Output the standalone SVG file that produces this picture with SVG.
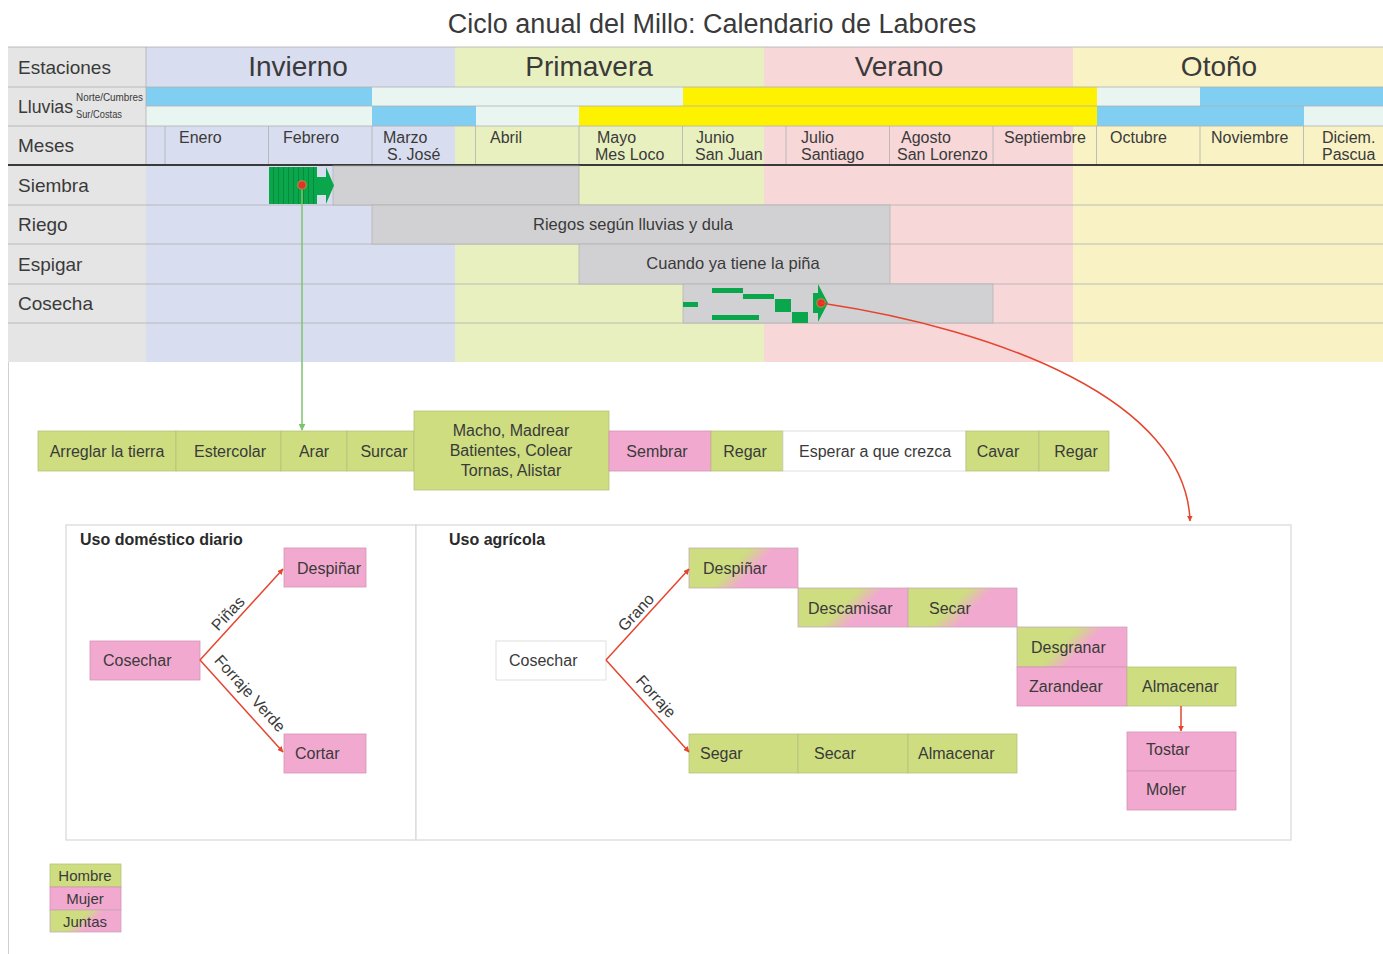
<svg xmlns="http://www.w3.org/2000/svg" width="1383" height="954" viewBox="0 0 1383 954">
<style>
text{font-family:"Liberation Sans",Arial,sans-serif;fill:#3a3a3a}
.title{font-size:27px}
.season{font-size:28px}
.rowl{font-size:19px}
.mon{font-size:16px}
.tiny{font-size:10px}
.bar{fill:#d1d1d3;stroke:#b5b5b5;stroke-width:0.8}
.bt{font-size:16.5px;text-anchor:middle}
.g{fill:#cddd80;stroke:#b5c47a;stroke-width:0.8}
.p{fill:#f2a9cf;stroke:#d493b3;stroke-width:0.8}
.w{fill:#ffffff;stroke:#d6d6d6;stroke-width:0.8}
.gp{fill:url(#gp);stroke:#c9a8b8;stroke-width:0.8}
.bx{font-size:16px}
.bc{font-size:16px;text-anchor:middle}
.lab{font-size:16px;text-anchor:middle}
.hd{font-size:16px;font-weight:bold;fill:#2a2a2a}
.grid{stroke:#b0b0b0;stroke-width:0.8}
.panel{fill:#ffffff;stroke:#d8d8d8;stroke-width:1.2}
.red{stroke:#e5452e;stroke-width:1.5;fill:none}
.leg{font-size:15px;text-anchor:middle}
</style>
<defs>
<linearGradient id="gp" x1="0" y1="0" x2="1" y2="0.35">
<stop offset="0.5" stop-color="#cddd80"/>
<stop offset="0.7" stop-color="#f2a9cf"/>
</linearGradient>
<marker id="ar" viewBox="0 0 10 10" refX="9" refY="5" markerWidth="6" markerHeight="6" orient="auto" markerUnits="userSpaceOnUse">
<path d="M0,0 L10,5 L0,10 z" fill="#e5452e"/>
</marker>
<marker id="ag" viewBox="0 0 10 10" refX="9" refY="5" markerWidth="7" markerHeight="7" orient="auto" markerUnits="userSpaceOnUse">
<path d="M0,0 L10,5 L0,10 z" fill="#7dc36b"/>
</marker>
<pattern id="stripes" x="269" y="0" width="5" height="10" patternUnits="userSpaceOnUse">
<rect width="5" height="10" fill="#0aa64b"/>
<rect x="4" width="1" height="10" fill="#078a3c"/>
</pattern>
</defs>

<rect width="1383" height="954" fill="#ffffff"/>
<line x1="8.5" y1="47" x2="8.5" y2="954" stroke="#d0d0d0" stroke-width="1"/>

<text class="title" x="712" y="33" text-anchor="middle">Ciclo anual del Millo: Calendario de Labores</text>

<g id="calendar">
<rect x="8" y="47" width="138" height="315" fill="#e5e5e5"/>
<rect x="146" y="47" width="309" height="315" fill="#d9ddf0"/>
<rect x="455" y="47" width="309" height="315" fill="#e8f0c0"/>
<rect x="764" y="47" width="309" height="315" fill="#f7d7d7"/>
<rect x="1073" y="47" width="310" height="315" fill="#f8f2c4"/>

<rect x="146" y="87" width="226" height="19" fill="#80cff2"/>
<rect x="372" y="87" width="311" height="19" fill="#e9f5f1"/>
<rect x="683" y="87" width="414" height="19" fill="#fff200"/>
<rect x="1097" y="87" width="103" height="19" fill="#e9f5f1"/>
<rect x="1200" y="87" width="183" height="19" fill="#80cff2"/>
<rect x="146" y="106" width="226" height="20" fill="#e9f5f1"/>
<rect x="372" y="106" width="104" height="20" fill="#80cff2"/>
<rect x="476" y="106" width="103" height="20" fill="#e9f5f1"/>
<rect x="579" y="106" width="518" height="20" fill="#fff200"/>
<rect x="1097" y="106" width="207" height="20" fill="#80cff2"/>
<rect x="1304" y="106" width="79" height="20" fill="#e9f5f1"/>

<g class="grid">
<line x1="8" y1="47" x2="1383" y2="47"/>
<line x1="8" y1="87" x2="1383" y2="87"/>
<line x1="146" y1="106" x2="1383" y2="106"/>
<line x1="8" y1="126" x2="1383" y2="126"/>
<line x1="8" y1="205" x2="1383" y2="205"/>
<line x1="8" y1="244" x2="1383" y2="244"/>
<line x1="8" y1="284" x2="1383" y2="284"/>
<line x1="8" y1="323" x2="1383" y2="323"/>
<line x1="146" y1="47" x2="146" y2="165"/>
<line x1="165" y1="126" x2="165" y2="165"/>
<line x1="268.5" y1="126" x2="268.5" y2="165"/>
<line x1="372" y1="126" x2="372" y2="165"/>
<line x1="475.5" y1="126" x2="475.5" y2="165"/>
<line x1="579" y1="126" x2="579" y2="165"/>
<line x1="682.5" y1="126" x2="682.5" y2="165"/>
<line x1="786" y1="126" x2="786" y2="165"/>
<line x1="889.5" y1="126" x2="889.5" y2="165"/>
<line x1="993" y1="126" x2="993" y2="165"/>
<line x1="1096.5" y1="126" x2="1096.5" y2="165"/>
<line x1="1200" y1="126" x2="1200" y2="165"/>
<line x1="1303.5" y1="126" x2="1303.5" y2="165"/>
</g>
<line x1="8" y1="165" x2="1383" y2="165" stroke="#3a3a3a" stroke-width="2"/>

<text class="rowl" x="18" y="74">Estaciones</text>
<text class="rowl" x="18" y="113" textLength="55" lengthAdjust="spacingAndGlyphs">Lluvias</text>
<text class="tiny" x="76" y="101" textLength="67" lengthAdjust="spacingAndGlyphs">Norte/Cumbres</text>
<text class="tiny" x="76" y="118" textLength="46" lengthAdjust="spacingAndGlyphs">Sur/Costas</text>
<text class="rowl" x="18" y="152">Meses</text>
<text class="rowl" x="18" y="192">Siembra</text>
<text class="rowl" x="18" y="231">Riego</text>
<text class="rowl" x="18" y="271">Espigar</text>
<text class="rowl" x="18" y="310">Cosecha</text>

<text class="season" x="298" y="76" text-anchor="middle">Invierno</text>
<text class="season" x="589" y="76" text-anchor="middle">Primavera</text>
<text class="season" x="899" y="76" text-anchor="middle">Verano</text>
<text class="season" x="1219" y="76" text-anchor="middle">Otoño</text>

<text class="mon" x="179" y="143">Enero</text>
<text class="mon" x="283" y="143">Febrero</text>
<text class="mon" x="383" y="143">Marzo</text>
<text class="mon" x="387" y="160">S. José</text>
<text class="mon" x="490" y="143">Abril</text>
<text class="mon" x="597" y="143">Mayo</text>
<text class="mon" x="595" y="160">Mes Loco</text>
<text class="mon" x="696" y="143">Junio</text>
<text class="mon" x="695" y="160">San Juan</text>
<text class="mon" x="801" y="143">Julio</text>
<text class="mon" x="801" y="160">Santiago</text>
<text class="mon" x="901" y="143">Agosto</text>
<text class="mon" x="897" y="160">San Lorenzo</text>
<text class="mon" x="1004" y="143">Septiembre</text>
<text class="mon" x="1110" y="143">Octubre</text>
<text class="mon" x="1211" y="143">Noviembre</text>
<text class="mon" x="1322" y="143">Diciem.</text>
<text class="mon" x="1322" y="160">Pascua</text>
</g>

<g id="siembra-bar">
<rect class="bar" x="333" y="166" width="246" height="39"/>
<rect x="269" y="167" width="48" height="37" fill="url(#stripes)"/>
<polygon points="317,177 326,177 326,167 334,185.5 326,204 326,195 317,195" fill="#0aa64b"/>
<circle cx="302" cy="185" r="5" fill="#f2803a" opacity="0.6"/>
<circle cx="302" cy="185" r="3.5" fill="#e8302a"/>
</g>

<g id="riego-bar">
<rect class="bar" x="372" y="205" width="518" height="39"/>
<text class="bt" x="633" y="230">Riegos según lluvias y dula</text>
</g>

<g id="espigar-bar">
<rect class="bar" x="579" y="244" width="311" height="40"/>
<text class="bt" x="733" y="269">Cuando ya tiene la piña</text>
</g>

<g id="cosecha-bar">
<rect class="bar" x="683" y="284" width="310" height="39"/>
<g fill="#0aa64b">
<rect x="683" y="302" width="15" height="5"/>
<rect x="712" y="288" width="31" height="5"/>
<rect x="743" y="294" width="31" height="5"/>
<rect x="712" y="315" width="47" height="5"/>
<rect x="775" y="299" width="16" height="13"/>
<rect x="792" y="312" width="16" height="11"/>
<polygon points="813,293 818,293 818,284 828,303 818,322 818,313 813,313"/>
</g>
<circle cx="821" cy="303" r="5" fill="#f2803a" opacity="0.6"/>
<circle cx="821" cy="303" r="3.5" fill="#e8302a"/>
</g>

<g id="tasks">
<g id="t-arreglar"><rect class="g" x="38" y="431" width="138" height="40"/><text class="bc" x="107" y="457">Arreglar la tierra</text></g>
<g id="t-estercolar"><rect class="g" x="176" y="431" width="105" height="40"/><text class="bc" x="230" y="457">Estercolar</text></g>
<g id="t-arar"><rect class="g" x="281" y="431" width="66" height="40"/><text class="bc" x="314" y="457">Arar</text></g>
<g id="t-surcar"><rect class="g" x="347" y="431" width="67" height="40"/><text class="bc" x="384" y="457">Surcar</text></g>
<g id="t-macho"><rect class="g" x="414" y="411" width="195" height="79"/>
<text class="bc" x="511" y="436">Macho, Madrear</text>
<text class="bc" x="511" y="456">Batientes, Colear</text>
<text class="bc" x="511" y="476">Tornas, Alistar</text></g>
<g id="t-sembrar"><rect class="p" x="609" y="431" width="102" height="40"/><text class="bc" x="657" y="457">Sembrar</text></g>
<g id="t-regar1"><rect class="g" x="711" y="431" width="72" height="40"/><text class="bc" x="745" y="457">Regar</text></g>
<g id="t-esperar"><rect class="w" x="783" y="431" width="183" height="40"/><text class="bc" x="875" y="457">Esperar a que crezca</text></g>
<g id="t-cavar"><rect class="g" x="966" y="431" width="73" height="40"/><text class="bc" x="998" y="457">Cavar</text></g>
<g id="t-regar2"><rect class="g" x="1039" y="431" width="70" height="40"/><text class="bc" x="1076" y="457">Regar</text></g>
</g>

<g id="panel-domestico">
<rect class="panel" x="66" y="525" width="350" height="315"/>
<text class="hd" x="80" y="545">Uso doméstico diario</text>
<g id="d-cosechar"><rect class="p" x="90" y="641" width="110" height="39"/><text class="bx" x="103" y="666">Cosechar</text></g>
<g id="d-despinar"><rect class="p" x="284" y="548" width="82" height="39"/><text class="bx" x="297" y="574">Despiñar</text></g>
<g id="d-cortar"><rect class="p" x="284" y="734" width="82" height="39"/><text class="bx" x="295" y="759">Cortar</text></g>
</g>

<g id="panel-agricola">
<rect class="panel" x="416" y="525" width="875" height="315"/>
<text class="hd" x="449" y="545">Uso agrícola</text>
<g id="a-cosechar"><rect class="w" x="496" y="641" width="110" height="39"/><text class="bx" x="509" y="666">Cosechar</text></g>
<g id="a-despinar"><rect class="gp" x="689" y="548" width="109" height="40"/><text class="bx" x="703" y="574">Despiñar</text></g>
<g id="a-descamisar"><rect class="gp" x="798" y="588" width="110" height="39"/><text class="bx" x="808" y="614">Descamisar</text></g>
<g id="a-secar1"><rect class="gp" x="908" y="588" width="109" height="39"/><text class="bx" x="929" y="614">Secar</text></g>
<g id="a-desgranar"><rect class="gp" x="1017" y="627" width="110" height="40"/><text class="bx" x="1031" y="653">Desgranar</text></g>
<g id="a-zarandear"><rect class="p" x="1017" y="667" width="110" height="39"/><text class="bx" x="1029" y="692">Zarandear</text></g>
<g id="a-almacenar1"><rect class="g" x="1127" y="667" width="109" height="39"/><text class="bx" x="1142" y="692">Almacenar</text></g>
<g id="a-tostar"><rect class="p" x="1127" y="732" width="109" height="39"/><text class="bx" x="1146" y="755">Tostar</text></g>
<g id="a-moler"><rect class="p" x="1127" y="771" width="109" height="39"/><text class="bx" x="1146" y="795">Moler</text></g>
<g id="a-segar"><rect class="g" x="689" y="734" width="109" height="39"/><text class="bx" x="700" y="759">Segar</text></g>
<g id="a-secar2"><rect class="g" x="798" y="734" width="110" height="39"/><text class="bx" x="814" y="759">Secar</text></g>
<g id="a-almacenar2"><rect class="g" x="908" y="734" width="109" height="39"/><text class="bx" x="918" y="759">Almacenar</text></g>
</g>

<g id="legend">
<rect class="g" x="50" y="864" width="71" height="23"/><text class="leg" x="85" y="881">Hombre</text>
<rect class="p" x="50" y="887" width="71" height="23"/><text class="leg" x="85" y="904">Mujer</text>
<rect class="gp" x="50" y="910" width="71" height="22"/><text class="leg" x="85" y="927">Juntas</text>
</g>

<g id="connectors">
<line x1="302" y1="190" x2="302" y2="430" stroke="#7dc36b" stroke-width="1.5" marker-end="url(#ag)"/>
<path class="red" d="M821,303 C1000,330 1186,400 1190,521" marker-end="url(#ar)"/>
<line class="red" x1="200" y1="660" x2="283" y2="569" marker-end="url(#ar)"/>
<line class="red" x1="200" y1="660" x2="283" y2="752" marker-end="url(#ar)"/>
<line class="red" x1="606" y1="660" x2="689" y2="569" marker-end="url(#ar)"/>
<line class="red" x1="606" y1="660" x2="689" y2="752" marker-end="url(#ar)"/>
<line class="red" x1="1181" y1="706" x2="1181" y2="731" marker-end="url(#ar)"/>
<text class="lab" transform="translate(232,617) rotate(-47)">Piñas</text>
<text class="lab" transform="translate(246,697) rotate(48)">Forraje Verde</text>
<text class="lab" transform="translate(640,616) rotate(-47)">Grano</text>
<text class="lab" transform="translate(652,700) rotate(48)">Forraje</text>
</g>
</svg>
